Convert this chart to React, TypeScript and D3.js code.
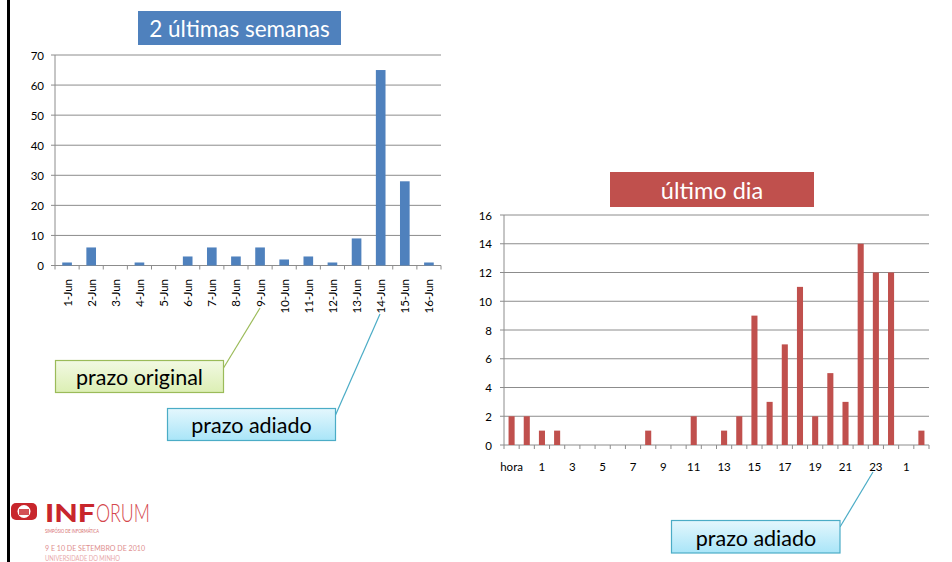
import React from "react";
import * as d3 from "d3";

const days = ["1-Jun", "2-Jun", "3-Jun", "4-Jun", "5-Jun", "6-Jun", "7-Jun", "8-Jun", "9-Jun", "10-Jun", "11-Jun", "12-Jun", "13-Jun", "14-Jun", "15-Jun", "16-Jun"];
const dayValues = [1, 6, 0, 1, 0, 3, 6, 3, 6, 2, 3, 1, 9, 65, 28, 1];
const dayTicks = [0, 10, 20, 30, 40, 50, 60, 70];

const hours = ["hora", "0", "1", "2", "3", "4", "5", "6", "7", "8", "9", "10", "11", "12", "13", "14", "15", "16", "17", "18", "19", "20", "21", "22", "23", "0", "1", "2"];
const hourValues = [2, 2, 1, 1, 0, 0, 0, 0, 0, 1, 0, 0, 2, 0, 1, 2, 9, 3, 7, 11, 2, 5, 3, 14, 12, 12, 0, 1];
const hourTicks = [0, 2, 4, 6, 8, 10, 12, 14, 16];

const FONT = "Lato, 'Open Sans', sans-serif";
const GRID = "#8c8c8c";

export default function App() {
  // left chart: 2 últimas semanas
  const xL = d3.scaleBand<number>().domain(d3.range(days.length)).range([55, 441]).paddingInner(0.6).paddingOuter(0.3);
  const yL = d3.scaleLinear().domain([0, 70]).range([265.5, 55]);

  // right chart: último dia
  const xR = d3.scaleBand<number>().domain(d3.range(hours.length)).range([504, 929]).paddingInner(0.6).paddingOuter(0.3);
  const yR = d3.scaleLinear().domain([0, 16]).range([445, 215]);

  const stepL = (441 - 55) / days.length;
  const stepR = (929 - 504) / hours.length;

  return (
    <svg width={952} height={562} style={{ position: "absolute", left: 0, top: 0, background: "#fff" }} fontFamily={FONT}>
      <defs>
        <linearGradient id="gGreen" x1="0" y1="0" x2="0" y2="1">
          <stop offset="0%" stopColor="#f2f9e3" />
          <stop offset="100%" stopColor="#dcefb4" />
        </linearGradient>
        <linearGradient id="gBlue" x1="0" y1="0" x2="0" y2="1">
          <stop offset="0%" stopColor="#e4f7fd" />
          <stop offset="100%" stopColor="#a9e5f8" />
        </linearGradient>
      </defs>
      <rect x={0} y={0} width={952} height={562} fill="#fff" />
      <rect x={7} y={0} width={3} height={562} fill="#000" />

      {/* ---- left chart ---- */}
      <rect x={138} y={11} width={203} height={34} fill="#4f81bd" />
      <text x={239.5} y={28} textAnchor="middle" dominantBaseline="central" fontSize={22.5} fill="#fff">2 últimas semanas</text>

      {dayTicks.map((t) => (
        <g key={`yl${t}`}>
          <line x1={51} x2={441} y1={yL(t)} y2={yL(t)} stroke={GRID} strokeWidth={1} />
          <text x={44} y={yL(t)} textAnchor="end" dominantBaseline="central" fontSize={11.5} fill="#000">{t}</text>
        </g>
      ))}
      <line x1={55} x2={55} y1={yL(70)} y2={yL(0)} stroke={GRID} />
      {d3.range(days.length + 1).map((i) => (
        <line key={`xtl${i}`} x1={55 + i * stepL} x2={55 + i * stepL} y1={yL(0)} y2={yL(0) + 4} stroke={GRID} />
      ))}
      {dayValues.map((v, i) => (
        <rect key={`bl${i}`} x={xL(i)} y={yL(v)} width={xL.bandwidth()} height={yL(0) - yL(v)} fill="#4f81bd" />
      ))}
      {days.map((d, i) => {
        const cx = (xL(i) as number) + xL.bandwidth() / 2;
        return (
          <text key={`xl${i}`} transform={`translate(${cx},279) rotate(-90)`} textAnchor="end" dominantBaseline="central" fontSize={11.5} fill="#000">{d}</text>
        );
      })}

      {/* ---- right chart ---- */}
      <rect x={610} y={172} width={204} height={35} fill="#c0504d" />
      <text x={712} y={190} textAnchor="middle" dominantBaseline="central" fontSize={23.5} fill="#fff">último dia</text>

      {hourTicks.map((t) => (
        <g key={`yr${t}`}>
          <line x1={500} x2={929} y1={yR(t)} y2={yR(t)} stroke={GRID} strokeWidth={1} />
          <text x={492} y={yR(t)} textAnchor="end" dominantBaseline="central" fontSize={11.5} fill="#000">{t}</text>
        </g>
      ))}
      <line x1={504} x2={504} y1={yR(16)} y2={yR(0)} stroke={GRID} />
      {d3.range(hours.length + 1).map((i) => (
        <line key={`xtr${i}`} x1={504 + i * stepR} x2={504 + i * stepR} y1={yR(0)} y2={yR(0) + 4} stroke={GRID} />
      ))}
      {hourValues.map((v, i) => (
        <rect key={`br${i}`} x={xR(i)} y={yR(v)} width={xR.bandwidth()} height={yR(0) - yR(v)} fill="#c0504d" />
      ))}
      {hours.map((h, i) =>
        i % 2 === 0 ? (
          <text key={`xr${i}`} x={(xR(i) as number) + xR.bandwidth() / 2} y={466} textAnchor="middle" dominantBaseline="central" fontSize={11.5} fill="#000">{h}</text>
        ) : null
      )}

      {/* ---- callouts ---- */}
      <line x1={223.5} y1={368} x2={260} y2={308} stroke="#9bbb59" strokeWidth={1.2} />
      <rect x={55.5} y={360.5} width={168} height={32} fill="url(#gGreen)" stroke="#9bbb59" strokeWidth={1.2} />
      <text x={139.5} y={377} textAnchor="middle" dominantBaseline="central" fontSize={21.5} fill="#000">prazo original</text>

      <line x1={335.5} y1={415} x2={380} y2={314} stroke="#4bacc6" strokeWidth={1.2} />
      <rect x={167.5} y={408.5} width={168} height={32} fill="url(#gBlue)" stroke="#4bacc6" strokeWidth={1.2} />
      <text x={251.5} y={425} textAnchor="middle" dominantBaseline="central" fontSize={21.5} fill="#000">prazo adiado</text>

      <line x1={840} y1={527} x2={873} y2={472} stroke="#4bacc6" strokeWidth={1.2} />
      <rect x={671.5} y={520.5} width={168.5} height={32.5} fill="url(#gBlue)" stroke="#4bacc6" strokeWidth={1.2} />
      <text x={756} y={537.5} textAnchor="middle" dominantBaseline="central" fontSize={21.5} fill="#000">prazo adiado</text>

      {/* ---- logo ---- */}
      <g>
        <rect x={11} y={503} width={26} height={17} rx={5} fill="#c8262c" />
        <circle cx={24} cy={511.5} r={6.5} fill="#fff" />
        <rect x={19} y={509} width={10} height={6} fill="#c8262c" opacity={0.8} />
        <text x={45} y={522} fontSize={25} fontWeight={900} fill="#c8262c" textLength={50} lengthAdjust="spacingAndGlyphs">INF</text>
        <text x={96} y={522} fontSize={25} fontWeight={300} fill="#d4474c" textLength={54} lengthAdjust="spacingAndGlyphs">ORUM</text>
        <text x={45} y={533} fontSize={6} fill="#d56a6d" textLength={54} lengthAdjust="spacingAndGlyphs">SIMPÓSIO DE INFORMÁTICA</text>
        <text x={45} y={551} fontSize={8} fill="#e08f90" textLength={100} lengthAdjust="spacingAndGlyphs">9 E 10 DE SETEMBRO DE 2010</text>
        <text x={45} y={561} fontSize={7} fill="#e8a9aa" textLength={75} lengthAdjust="spacingAndGlyphs">UNIVERSIDADE DO MINHO</text>
      </g>
    </svg>
  );
}
